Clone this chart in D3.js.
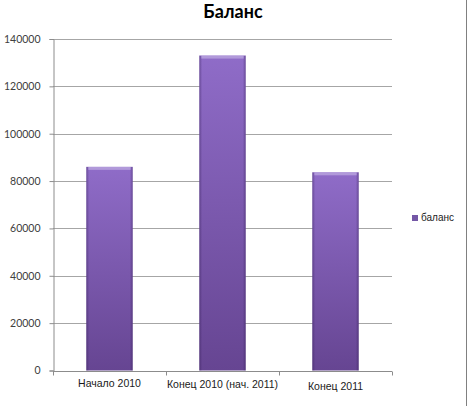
<!DOCTYPE html>
<html><head><meta charset="utf-8">
<script src="https://cdn.jsdelivr.net/npm/d3@7"></script>
<style>body{margin:0;background:#fff}svg{display:block}</style>
</head><body>
<script>
const categories = ["Начало 2010", "Конец 2010 (нач. 2011)", "Конец 2011"];
const values = [86000, 133000, 83700];
const yTicks = [0, 20000, 40000, 60000, 80000, 100000, 120000, 140000];
const seriesName = "баланс";
const title = "Баланс";

const W = 469, H = 406;
const m = {left: 53, right: 392, top: 39, bottom: 370.5};
const svg = d3.select("body").append("svg").attr("width", W).attr("height", H);

const defs = svg.append("defs");
const g1 = defs.append("linearGradient").attr("id","gv").attr("x1",0).attr("y1",0).attr("x2",0).attr("y2",1);
g1.append("stop").attr("offset","0%").attr("stop-color","#8f6cc8");
g1.append("stop").attr("offset","100%").attr("stop-color","#664592");
const g2 = defs.append("linearGradient").attr("id","gh").attr("x1",0).attr("y1",0).attr("x2",1).attr("y2",0);
g2.append("stop").attr("offset","0%").attr("stop-color","#2e1850").attr("stop-opacity",0.4);
g2.append("stop").attr("offset","6%").attr("stop-color","#2e1850").attr("stop-opacity",0);
g2.append("stop").attr("offset","94%").attr("stop-color","#2e1850").attr("stop-opacity",0);
g2.append("stop").attr("offset","100%").attr("stop-color","#2e1850").attr("stop-opacity",0.4);

const x = d3.scaleBand().domain(categories).range([m.left, m.right]).paddingInner(0.59).paddingOuter(0.295);
const y = d3.scaleLinear().domain([0, 140000]).range([m.bottom, m.top]);

// gridlines
svg.append("g").selectAll("line").data(yTicks.slice(1)).join("line")
  .attr("x1", m.left).attr("x2", m.right)
  .attr("y1", d => Math.round(y(d))+0.5).attr("y2", d => Math.round(y(d))+0.5)
  .attr("stroke", "#a6a6a6").attr("stroke-width", 1);

// y axis
const ya = svg.append("g").attr("transform", `translate(${m.left+0.5},0)`)
  .call(d3.axisLeft(y).tickValues(yTicks).tickSize(4).tickPadding(9).tickFormat(d3.format("d")));
ya.select(".domain").attr("stroke","#8c8c8c");
ya.selectAll(".tick line").attr("stroke","#8c8c8c");
ya.selectAll("text").attr("font-family","Lato, 'Open Sans', sans-serif").attr("font-size","10.5px").attr("fill","#404040");

// bars
const bars = svg.append("g");
bars.selectAll("rect.b").data(values).join("rect").attr("class","b")
  .attr("x", (d,i) => x(categories[i])).attr("width", x.bandwidth())
  .attr("y", d => y(d)).attr("height", d => y(0) - y(d))
  .attr("fill", "url(#gv)");
bars.selectAll("rect.e").data(values).join("rect").attr("class","e")
  .attr("x", (d,i) => x(categories[i])).attr("width", x.bandwidth())
  .attr("y", d => y(d)).attr("height", d => y(0) - y(d))
  .attr("fill", "url(#gh)");
bars.selectAll("rect.t").data(values).join("rect").attr("class","t")
  .attr("x", (d,i) => x(categories[i])+2).attr("width", x.bandwidth()-4)
  .attr("y", d => y(d)).attr("height", 3)
  .attr("fill", "#b9a5de").attr("opacity",0.8);

// x axis
const xa = svg.append("g").attr("transform", `translate(0,${Math.round(m.bottom)+0.5})`);
xa.append("line").attr("x1", m.left).attr("x2", m.right).attr("stroke","#8c8c8c");
const bounds = d3.range(categories.length+1).map(i => m.left + i*(m.right-m.left)/categories.length);
xa.selectAll("line.tk").data(bounds).join("line").attr("class","tk")
  .attr("x1", d => Math.round(d)+0.5).attr("x2", d => Math.round(d)+0.5).attr("y1",0).attr("y2",4)
  .attr("stroke","#8c8c8c");
const xOff = [0, 1, 3];
xa.selectAll("text").data(categories).join("text")
  .attr("x", d => x(d) + x.bandwidth()/2)
  .attr("y", (d,i) => 15 + xOff[i])
  .attr("text-anchor","middle")
  .attr("font-family","'Liberation Sans', Arial, sans-serif").attr("font-size","10.5px").attr("fill","#1a1a1a")
  .text(d => d);

// title
svg.append("text").attr("x", 233).attr("y", 18).attr("text-anchor","middle")
  .attr("font-family","Lato, 'Open Sans', sans-serif").attr("font-weight","bold").attr("font-size","18px").attr("fill","#000")
  .text(title);

// legend
const lg = svg.append("g").attr("transform","translate(412,215)");
lg.append("rect").attr("width",6).attr("height",6).attr("fill","#7457a6");
lg.append("text").attr("x",9).attr("y",6).attr("font-family","'Liberation Sans', Arial, sans-serif").attr("font-size","10px").attr("fill","#222").text(seriesName);

// border right
svg.append("line").attr("x1",466.5).attr("x2",466.5).attr("y1",0).attr("y2",H).attr("stroke","#808080");
</script>
</body></html>
